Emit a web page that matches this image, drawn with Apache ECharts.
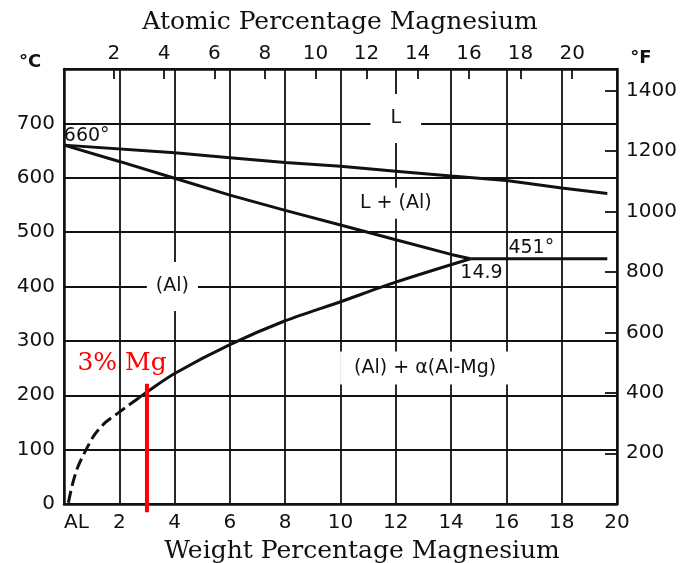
<!DOCTYPE html>
<html><head><meta charset="utf-8">
<script src="https://cdn.jsdelivr.net/npm/echarts@6/dist/echarts.min.js"></script>
<style>html,body{margin:0;padding:0;background:#fff}#c{width:683px;height:563px}</style>
</head><body><div id="c"></div>
<script>
// ---- data ----
const weightTickLabels = ['AL', '2', '4', '6', '8', '10', '12', '14', '16', '18', '20'];
const atomicTicks = [2, 4, 6, 8, 10, 12, 14, 16, 18, 20];
const fahrenheitTicks = [200, 400, 600, 800, 1000, 1200, 1400];
const liquidus = [[0, 660], [4, 646], [6, 637], [8, 628], [10, 621], [12, 612], [14, 603], [16, 595], [18, 581], [19.65, 571]];
const solidus = [[0, 660], [2, 630], [4, 599], [6, 568], [8, 540], [10, 513], [12, 486], [14, 459], [14.7, 451]];
const eutectic = [[14.7, 451], [19.65, 451]];
const solvusSolid = [[14.7, 451], [12, 408], [10, 372], [8, 337], [6, 293], [4, 240], [3, 206], [2.7, 195]];
const solvusDashed = [[2.7, 195], [2, 169], [1.5, 150], [1.1, 127], [0.8, 100], [0.5, 68], [0.3, 35], [0.15, 0]];
const marker3 = [[3, 221], [3, -15]];
const regionLabels = [
  [12.0, 709, 'L'],
  [12.0, 553, 'L + (Al)'],
  [3.92, 400, '(Al)'],
  [13.06, 250, '(Al) + α(Al-Mg)'],
  [0.82, 676, '660°'],
  [16.9, 471, '451°'],
  [15.1, 425, '14.9']
];
const markerLabel = [2.1, 258, '3% Mg'];

// ---- helpers ----
const MG = 24.305, AL = 26.982;
const atToWt = a => a * MG / (a * MG + (100 - a) * AL) * 100;
const wtToAt = w => (w / MG) / (w / MG + (100 - w) / AL) * 100;
const fToC = f => (f - 32) * 5 / 9;
const cToF = c => c * 9 / 5 + 32;

const INK = '#111';
const sans = 'DejaVu Sans';
const boxPad = { 'L': [15, 20], 'L + (Al)': [6, 8], '(Al)': [15, 9], '(Al) + α(Al-Mg)': [7, 14] };

const labelData = regionLabels.map(r => {
  const pad = boxPad[r[2]];
  const lab = { show: true, position: 'inside', color: INK, opacity: 1, fontFamily: sans, fontSize: 19, formatter: '{b}' };
  if (pad) { lab.backgroundColor = '#fff'; lab.padding = pad; }
  return { name: r[2], value: [r[0], r[1]], label: lab };
});
labelData.push({ name: markerLabel[2], value: [markerLabel[0], markerLabel[1]],
  label: { show: true, position: 'inside', color: '#ff0000', opacity: 1, fontFamily: 'DejaVu Serif', fontSize: 25, formatter: '{b}' } });

const curve = (data, extra) => Object.assign({
  type: 'line', data: data, symbol: 'none', z: 5, silent: true,
  lineStyle: { color: INK, width: 3 }
}, extra || {});

const frameLine = { show: true, onZero: false, lineStyle: { color: INK, width: 2.5 } };
const tickFont = { color: INK, fontFamily: sans, fontSize: 20 };

const chart = echarts.init(document.getElementById('c'));
chart.setOption({
  animation: false,
  backgroundColor: '#fff',
  grid: { left: 64, right: 66, top: 69, bottom: 59 },
  xAxis: [
    { type: 'value', min: 0, max: 20, interval: 2, position: 'bottom',
      axisLine: frameLine,
      axisTick: { show: false },
      axisLabel: Object.assign({ margin: 9, alignMinLabel: 'left',
        formatter: (v) => weightTickLabels[Math.round(v / 2)] }, tickFont),
      splitLine: { show: true, lineStyle: { color: INK, width: 1.8 } } },
    { type: 'value', min: 0, max: 20, position: 'top',
      axisLine: frameLine,
      axisTick: { show: true, inside: true, length: 10, lineStyle: { color: INK, width: 1.8 },
        customValues: atomicTicks.map(atToWt) },
      axisLabel: Object.assign({ margin: 5,
        customValues: atomicTicks.map(atToWt),
        formatter: (v) => String(Math.round(wtToAt(v))) }, tickFont),
      splitLine: { show: false } }
  ],
  yAxis: [
    { type: 'value', min: 0, max: 800, interval: 100, position: 'left',
      axisLine: frameLine,
      axisTick: { show: false },
      axisLabel: Object.assign({ margin: 9,
        formatter: (v) => v === 800 ? '' : String(v) }, tickFont),
      splitLine: { show: true, lineStyle: { color: INK, width: 1.8 } } },
    { type: 'value', min: 0, max: 800, position: 'right',
      axisLine: frameLine,
      axisTick: { show: true, inside: true, length: 12, lineStyle: { color: INK, width: 1.8 },
        customValues: fahrenheitTicks.map(fToC) },
      axisLabel: Object.assign({ margin: 9,
        customValues: fahrenheitTicks.map(fToC),
        formatter: (v) => String(Math.round(cToF(v))) }, tickFont),
      splitLine: { show: false } }
  ],
  graphic: [
    { type: 'text', x: 340, y: 22, style: { text: 'Atomic Percentage Magnesium', fill: INK, font: '25px "DejaVu Serif"', align: 'center', verticalAlign: 'middle' } },
    { type: 'text', x: 362, y: 551, style: { text: 'Weight Percentage Magnesium', fill: INK, font: '25px "DejaVu Serif"', align: 'center', verticalAlign: 'middle' } },
    { type: 'text', x: 30, y: 62, style: { text: '°C', fill: INK, font: 'bold 18px "DejaVu Sans"', align: 'center', verticalAlign: 'middle' } },
    { type: 'text', x: 641, y: 58, style: { text: '°F', fill: INK, font: 'bold 18px "DejaVu Sans"', align: 'center', verticalAlign: 'middle' } }
  ],
  series: [
    { type: 'scatter', data: labelData, symbolSize: 1, z: 3, silent: true,
      itemStyle: { color: 'rgba(0,0,0,0)', opacity: 1 } },
    curve(liquidus),
    curve(solidus),
    curve(eutectic),
    curve(solvusSolid, { smooth: 0.3 }),
    curve(solvusDashed, { smooth: 0.3, lineStyle: { color: INK, width: 3, type: [12, 5] } }),
    curve(marker3, { clip: false, z: 6, lineStyle: { color: '#ff0000', width: 4 } })
  ]
});
</script>
</body></html>
